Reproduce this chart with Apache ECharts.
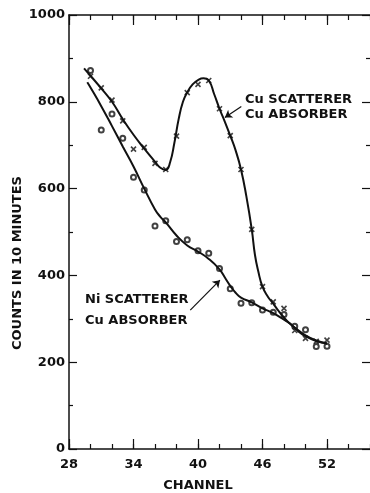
<!DOCTYPE html>
<html>
<head>
<meta charset="utf-8">
<script src="https://cdn.jsdelivr.net/npm/echarts@6/dist/echarts.min.js"></script>
<style>
  html, body { margin: 0; padding: 0; background: #fff; }
  #chart { width: 370px; height: 493px; }
</style>
</head>
<body>
<div id="chart"></div>
<script>
// measured points, channel 30..52
const channels = [30, 31, 32, 33, 34, 35, 36, 37, 38, 39, 40, 41, 42, 43, 44, 45, 46, 47, 48, 49, 50, 51, 52];
const cuCounts = [859, 832, 804, 756, 691, 695, 658, 644, 721, 821, 840, 849, 784, 722, 644, 506, 374, 339, 324, 273, 255, 248, 251];
const niCounts = [872, 735, 772, 716, 626, 597, 514, 526, 478, 482, 457, 451, 416, 369, 336, 337, 320, 315, 310, 283, 275, 236, 237];

// hand drawn curves
const cuCurveChannel = [29.4, 30, 31, 32, 33, 34, 35, 36, 36.5, 37, 37.4, 37.8, 38.2, 38.6, 39, 39.5, 40, 40.5, 41, 41.5, 42, 42.5, 43, 43.5, 44, 44.5, 45, 45.3, 45.6, 46, 46.5, 47, 47.5, 48, 48.5, 49, 49.5, 50, 51, 52];
const cuCurveCounts = [877, 860, 831, 800, 760, 724, 692, 662, 648, 643, 660, 705, 760, 800, 822, 840, 850, 854, 849, 818, 784, 754, 722, 688, 644, 582, 506, 447, 410, 374, 351, 335, 318, 303, 290, 279, 268, 260, 249, 243];
const niCurveChannel = [29.7, 30, 31, 32, 33, 34, 35, 36, 36.5, 37, 38, 39, 40, 41, 42, 42.5, 43, 43.5, 44, 45, 46, 47, 48, 48.5, 49, 50, 51, 52];
const niCurveCounts = [845, 833, 790, 744, 697, 651, 600, 552, 535, 522, 492, 469, 455, 438, 414, 395, 376, 360, 349, 338, 324, 313, 298, 290, 280, 262, 250, 243];

const xLabels = [28, 34, 40, 46, 52];
const yLabels = [0, 200, 400, 600, 800, 1000];

const ink = "#111";
const font = "DejaVu Sans";

const zip = (xs, ys) => xs.map((x, i) => [x, ys[i]]);

const chart = echarts.init(document.getElementById("chart"));

const gridRect = { left: 69, top: 15, right: -3.5, bottom: 44 };

const minorX = {
  type: "value", min: 28, max: 56, interval: 2,
  axisLine: { show: true, onZero: false, lineStyle: { color: ink, width: 1.5 } },
  axisTick: { inside: true, length: 5, lineStyle: { color: ink, width: 1.2 } },
  splitLine: { show: false },
};
const majorX = {
  type: "value", min: 28, max: 56, gridIndex: 1,
  axisLine: { show: false, onZero: false },
  axisTick: { inside: true, length: 10, customValues: xLabels, lineStyle: { color: ink, width: 1.2 } },
  axisLabel: { show: false },
  splitLine: { show: false },
};
const yBase = {
  type: "value", min: 0, max: 1000, interval: 200,
  axisLine: { show: true, onZero: false, lineStyle: { color: ink, width: 1.5 } },
  axisTick: { inside: true, length: 8, lineStyle: { color: ink, width: 1.2 } },
  minorTick: { show: true, splitNumber: 2, length: 4, lineStyle: { color: ink, width: 1.2 } },
  splitLine: { show: false },
  minorSplitLine: { show: false },
};
const labelFont = { color: ink, fontFamily: font, fontWeight: "bold", fontSize: 13 };

const option = {
  animation: false,
  backgroundColor: "#fff",
  grid: [Object.assign({}, gridRect), Object.assign({}, gridRect)],
  xAxis: [
    Object.assign({}, minorX, {
      position: "bottom",
      axisLabel: Object.assign({ customValues: xLabels, margin: 9, formatter: (v) => String(v) }, labelFont),
    }),
    Object.assign({}, minorX, { position: "top", axisLabel: { show: false } }),
    Object.assign({}, majorX, { position: "bottom" }),
    Object.assign({}, majorX, { position: "top" }),
  ],
  yAxis: [
    Object.assign({}, yBase, {
      position: "left",
      axisLabel: Object.assign({ customValues: yLabels, margin: 4, formatter: (v) => String(v) }, labelFont),
    }),
    Object.assign({}, yBase, {
      position: "right",
      axisLine: { show: false, onZero: false },
      axisLabel: { show: false },
    }),
    { type: "value", gridIndex: 1, min: 0, max: 1000, show: false, axisLine: { onZero: false } },
  ],
  series: [
    {
      name: "Cu curve",
      type: "line",
      data: zip(cuCurveChannel, cuCurveCounts),
      smooth: 0.5,
      showSymbol: false,
      lineStyle: { color: ink, width: 2 },
      silent: true,
      markLine: {
        silent: true,
        symbol: ["none", "arrow"],
        symbolSize: 7,
        label: { show: false },
        lineStyle: { color: ink, width: 1.2, type: "solid", curveness: 0.2 },
        data: [[{ coord: [44.03, 789] }, { coord: [42.5, 764] }]],
      },
    },
    {
      name: "Ni curve",
      type: "line",
      data: zip(niCurveChannel, niCurveCounts),
      smooth: 0.5,
      showSymbol: false,
      lineStyle: { color: ink, width: 2 },
      silent: true,
      markLine: {
        silent: true,
        symbol: ["none", "arrow"],
        symbolSize: 7,
        label: { show: false },
        lineStyle: { color: ink, width: 1.2, type: "solid", curveness: -0.35 },
        data: [[{ coord: [39.28, 320] }, { coord: [42.04, 389] }]],
      },
    },
    {
      name: "Cu scatterer",
      type: "scatter",
      data: zip(channels, cuCounts),
      symbol: "path://M0,0L10,10M0,10L10,0",
      symbolSize: 5,
      itemStyle: { color: "transparent", borderColor: ink, borderWidth: 1.6 },
    },
    {
      name: "Ni scatterer",
      type: "scatter",
      data: zip(channels, niCounts),
      symbol: "emptyCircle",
      symbolSize: 5,
      itemStyle: { color: ink, borderColor: ink, borderWidth: 1.2 },
    },
  ],
  graphic: [
    { type: "text", x: 18, y: 263, rotation: Math.PI / 2,
      style: { text: "COUNTS IN 10 MINUTES", fill: ink, font: "bold 13px " + font, textAlign: "center", textVerticalAlign: "middle" } },
    { type: "text", x: 198, y: 486,
      style: { text: "CHANNEL", fill: ink, font: "bold 13px " + font, textAlign: "center", textVerticalAlign: "middle" } },
    { type: "text", x: 245, y: 100,
      style: { text: "Cu SCATTERER", fill: ink, font: "bold 13px " + font, textAlign: "left", textVerticalAlign: "middle" } },
    { type: "text", x: 245, y: 115,
      style: { text: "Cu ABSORBER", fill: ink, font: "bold 13px " + font, textAlign: "left", textVerticalAlign: "middle" } },
    { type: "text", x: 85, y: 300,
      style: { text: "Ni SCATTERER", fill: ink, font: "bold 13px " + font, textAlign: "left", textVerticalAlign: "middle" } },
    { type: "text", x: 85, y: 321,
      style: { text: "Cu ABSORBER", fill: ink, font: "bold 13px " + font, textAlign: "left", textVerticalAlign: "middle" } },
  ],
};

chart.setOption(option);
</script>
</body>
</html>
